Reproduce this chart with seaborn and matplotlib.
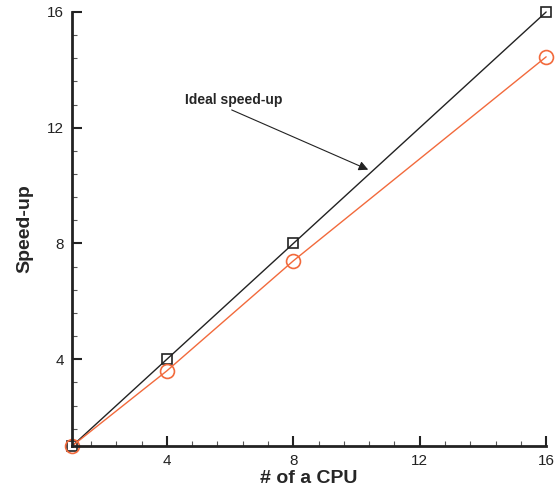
import matplotlib
matplotlib.use('Agg')
import matplotlib.pyplot as plt
from matplotlib.ticker import MultipleLocator
import seaborn as sns
import pandas as pd

# Speed-up data
cpus = [1, 4, 8, 16]
ideal = [1, 4, 8, 16]
measured = [1, 3.6, 7.4, 14.45]

sns.set_style('white')
plt.rcParams['font.family'] = ['Liberation Sans', 'DejaVu Sans']

df = pd.DataFrame({'cpu': cpus, 'ideal': ideal, 'measured': measured})

fig = plt.figure(figsize=(5.59, 4.91), dpi=100)
ax = fig.add_axes([0.129, 0.0916, 0.848, 0.884])

sns.lineplot(data=df, x='cpu', y='ideal', ax=ax, color='#222222', lw=1.0,
             marker='s', markersize=7, markerfacecolor='none',
             markeredgecolor='#222222', markeredgewidth=1.2, clip_on=False)
sns.lineplot(data=df, x='cpu', y='measured', ax=ax, color='#f26a3c', lw=1.0,
             marker='o', markersize=10, markerfacecolor='none',
             markeredgecolor='#f26a3c', markeredgewidth=1.2, clip_on=False)

ax.set_xlim(1, 16)
ax.set_ylim(1, 16)
ax.xaxis.set_major_locator(MultipleLocator(4))
ax.yaxis.set_major_locator(MultipleLocator(4))
ax.xaxis.set_minor_locator(MultipleLocator(0.8))
ax.yaxis.set_minor_locator(MultipleLocator(0.8))
ax.tick_params(which='major', direction='in', length=7, width=1.5, labelsize=11,
               colors='#222222', pad=6)
ax.tick_params(which='minor', direction='in', length=3.5, width=0.8, colors='#555555')
ax.tick_params(axis='x', which='both', bottom=True)
ax.tick_params(axis='y', which='both', left=True)

for s in ['top', 'right']:
    ax.spines[s].set_visible(False)
for s in ['left', 'bottom']:
    ax.spines[s].set_linewidth(2)
    ax.spines[s].set_color('#222222')

ax.set_xlabel('# of a CPU', fontsize=14, fontweight='bold', labelpad=1)
ax.set_ylabel('Speed-up', fontsize=14, fontweight='bold', labelpad=10)

ax.annotate('Ideal speed-up', xy=(10.37, 10.55), xytext=(4.58, 12.97),
            fontsize=10, fontweight='bold', va='center', ha='left',
            arrowprops=dict(arrowstyle='-|>', color='#222222', lw=0.8,
                            shrinkA=0, shrinkB=0, mutation_scale=14,
                            relpos=(0.4, 0)))

fig.savefig('out.png', dpi=100)
